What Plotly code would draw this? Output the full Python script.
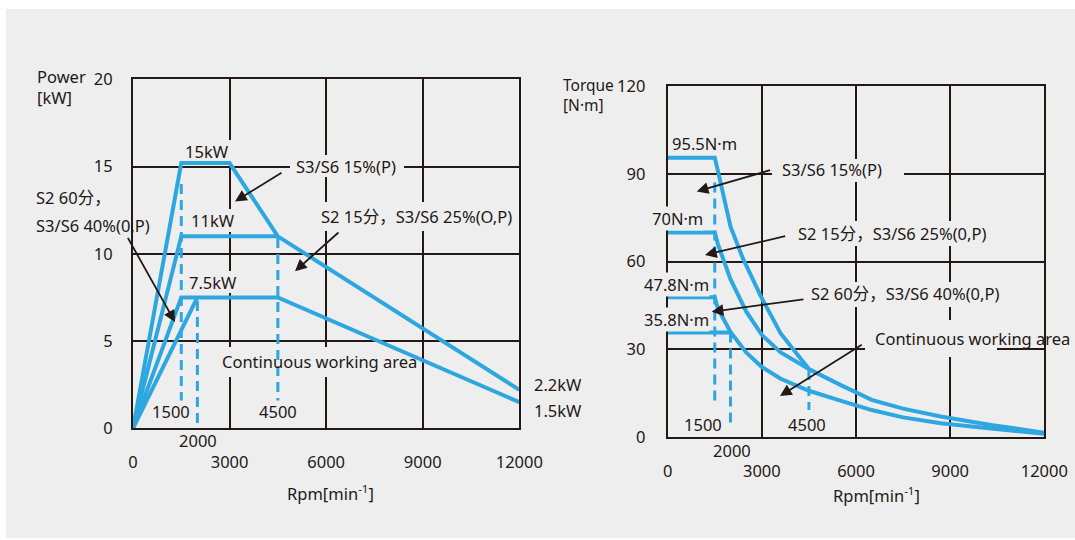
import plotly.graph_objects as go

# ---------------- data ----------------
# Left chart: Power [kW] vs Rpm
p_s3_15_rpm = [0, 1500, 3000, 4500, 12000]
p_s3_15_kw = [0, 15.2, 15.2, 11, 2.2]
p_s2_15_rpm = [0, 1500, 4500]
p_s2_15_kw = [0, 11, 11]
p_s2_60_rpm = [0, 1500, 4500, 12000]
p_s2_60_kw = [0, 7.5, 7.5, 1.5]
p_cont_rpm = [0, 2000]
p_cont_kw = [0, 7.5]

p_dash_1500 = ([1500, 1500], [14.0, 1.6])
p_dash_2000 = ([2000, 2000], [7.3, 0])
p_dash_4500 = ([4500, 4500], [10.9, 1.6])

# Right chart: Torque [N·m] vs Rpm
t_s3_15_rpm = [0, 1500, 1600, 2000, 2400, 3000, 3600, 4500, 5500, 6500, 7500, 8700, 10300, 12000]
t_s3_15_nm = [95.5, 95.5, 91, 72, 61, 47.5, 35.5, 23.3, 17.9, 12.8, 9.8, 7.1, 4.2, 1.6]
t_s2_15_rpm = [0, 1500, 1600, 2000, 2500, 3000, 3600, 4500]
t_s2_15_nm = [70, 70, 66, 54, 43, 35, 29, 23.3]
t_s2_60_rpm = [0, 1500, 1600, 2000, 2500, 3000, 3600, 4500, 5500, 6500, 7500, 8700, 10300, 12000]
t_s2_60_nm = [47.8, 47.8, 44, 36, 29, 24, 20, 15.9, 12.5, 9.3, 6.8, 4.8, 3.0, 1.2]
t_cont_rpm = [0, 2000, 2100]
t_cont_nm = [35.8, 35.8, 34]

t_dash_1500 = ([1500, 1500], [87, 10.5])
t_dash_2000 = ([2000, 2000], [35.8, 3.6])
t_dash_4500 = ([4500, 4500], [23, 9.3])

x_ticks = [0, 3000, 6000, 9000, 12000]
x_tick_text = ["0", "3000", "6000", "9000", "12000"]
p_ticks = [0, 5, 10, 15, 20]
t_ticks = [0, 30, 60, 90, 120]

# ---------------- style ----------------
W, H = 1075, 540
BLUE = "#2ea7e0"
INK = "#231815"
BG = "#eeeeee"
FONT = "Noto Sans, Noto Sans CJK SC, sans-serif"
FS = 16.5

# pixel geometry of the two plot areas
L_X0, L_X1, L_Y0, L_Y1 = 133, 519.3, 428.3, 79.3
R_X0, R_X1, R_Y0, R_Y1 = 667.7, 1044.3, 437.3, 86

fig = go.Figure()


def line(x, y, xa, ya, dash=None, width=4):
    fig.add_trace(go.Scatter(
        x=x, y=y, xaxis=xa, yaxis=ya, mode="lines",
        line=dict(color=BLUE, width=width, dash=dash),
        cliponaxis=False, hoverinfo="skip", showlegend=False))


for xs, ys in [(p_s3_15_rpm, p_s3_15_kw), (p_s2_15_rpm, p_s2_15_kw),
               (p_s2_60_rpm, p_s2_60_kw), (p_cont_rpm, p_cont_kw)]:
    line(xs, ys, "x", "y")
for xs, ys in [p_dash_1500, p_dash_2000, p_dash_4500]:
    line(xs, ys, "x", "y", dash="10px,6px", width=3)

for xs, ys in [(t_s3_15_rpm, t_s3_15_nm), (t_s2_15_rpm, t_s2_15_nm),
               (t_s2_60_rpm, t_s2_60_nm), (t_cont_rpm, t_cont_nm)]:
    line(xs, ys, "x2", "y2")
for xs, ys in [t_dash_1500, t_dash_2000, t_dash_4500]:
    line(xs, ys, "x2", "y2", dash="10px,6px", width=3)

axis_common = dict(
    showgrid=True, gridcolor=INK, gridwidth=2,
    showline=True, linecolor=INK, linewidth=2, mirror=True,
    zeroline=False, ticks="outside", tickcolor="rgba(0,0,0,0)",
    tickfont=dict(family=FONT, size=FS, color=INK), fixedrange=True,
    automargin=False,
)

fig.update_layout(
    width=W, height=H, autosize=False,
    margin=dict(l=0, r=0, t=0, b=0, pad=0, autoexpand=False),
    paper_bgcolor="white", plot_bgcolor=BG,
    font=dict(family=FONT, size=FS, color=INK),
    xaxis=dict(domain=[L_X0 / W, L_X1 / W], range=[0, 12000],
               tickvals=x_ticks, ticktext=x_tick_text, ticklen=18, anchor="y", **axis_common),
    yaxis=dict(domain=[1 - L_Y0 / H, 1 - L_Y1 / H], range=[0, 20],
               tickvals=p_ticks, ticklen=15, anchor="x", **axis_common),
    xaxis2=dict(domain=[R_X0 / W, R_X1 / W], range=[0, 12000],
                tickvals=x_ticks, ticktext=x_tick_text, ticklen=18, anchor="y2", **axis_common),
    yaxis2=dict(domain=[1 - R_Y0 / H, 1 - R_Y1 / H], range=[0, 120],
                tickvals=t_ticks, ticklen=17, anchor="x2", **axis_common),
)


def lx(px):
    return (px - L_X0) / (L_X1 - L_X0) * 12000


def ly(py):
    return (L_Y0 - py) / (L_Y0 - L_Y1) * 20


def rx(px):
    return (px - R_X0) / (R_X1 - R_X0) * 12000


def ry(py):
    return (R_Y0 - py) / (R_Y0 - R_Y1) * 120


shapes = [dict(type="rect", xref="paper", yref="paper", x0=6 / W, x1=1,
               y0=1 - 538 / H, y1=1 - 9 / H,
               fillcolor=BG, line=dict(width=0), layer="below")]

# background patches that interrupt the grid behind labels (drawn below the curves)
left_masks = [(182, 234, 140, 162), (186, 240, 209, 232), (184, 244, 271, 293),
              (290, 404, 155, 177), (316, 517, 202, 231), (218, 422, 347, 377)]
right_masks = [(772, 904, 159, 182), (793, 992, 221, 246), (806, 1004, 282, 307),
               (865, 997, 320, 357)]
for x0, x1, y0, y1 in left_masks:
    shapes.append(dict(type="rect", xref="x", yref="y", x0=lx(x0), x1=lx(x1),
                       y0=ly(y1), y1=ly(y0), fillcolor=BG, line=dict(width=0),
                       layer="between"))
for x0, x1, y0, y1 in right_masks:
    shapes.append(dict(type="rect", xref="x2", yref="y2", x0=rx(x0), x1=rx(x1),
                       y0=ry(y1), y1=ry(y0), fillcolor=BG, line=dict(width=0),
                       layer="between"))
fig.update_layout(shapes=shapes)

ann = []


def text(t, x, y, xr, yr, xanchor="center", bg=None, size=FS):
    ann.append(dict(text=t, x=x, y=y, xref=xr, yref=yr, showarrow=False,
                    xanchor=xanchor, yanchor="middle", align="left",
                    bgcolor=bg if bg else "rgba(0,0,0,0)", borderpad=0,
                    font=dict(family=FONT, size=size, color=INK)))


def ptext(t, px, py, xanchor="center", size=FS):
    text(t, px / W, 1 - py / H, "paper", "paper", xanchor, size=size)


def arrow(tail, head, xr, yr):
    ann.append(dict(text="", x=head[0], y=head[1], ax=tail[0], ay=tail[1],
                    xref=xr, yref=yr, axref=xr, ayref=yr, showarrow=True,
                    arrowhead=2, arrowsize=1.3, arrowwidth=1.8, arrowcolor=INK))


# left chart texts
ptext("Power<br>[kW]", 36, 87.5, "left")
text("15kW", 2298, 15.84, "x", "y")
text("11kW", 2485, 11.88, "x", "y")
text("7.5kW", 2485, 8.33, "x", "y")
text("S3/S6 15%(P)", 6616, 15.03, "x", "y")
text("S2 15分，S3/S6 25%(O,P)", 8811, 12.13, "x", "y")
ptext("S2 60分，", 35, 197, "left")
ptext("S3/S6 40%(0,P)", 35, 225, "left")
text("Continuous working area", 5808, 3.8, "x", "y")
ptext("2.2kW", 533, 384, "left")
ptext("1.5kW", 533, 410, "left")
text("1500", 1180, 0.94, "x", "y")
text("4500", 4504, 0.94, "x", "y")
ptext("2000", 198, 440)
ptext("Rpm[min<sup>-1</sup>]", 330, 493)
arrow((4659, 14.7), (3168, 13.0), "x", "y")
arrow((6429, 11.3), (5032, 9.0), "x", "y")
arrow((-186, 11.0), (1304, 6.09), "x", "y")

# right chart texts
ptext("Torque<br>[N·m]", 562, 95, "left", size=15.5)
text("95.5N·m", 1166, 100.5, "x2", "y2")
text("70N·m", 318, 74.6, "x2", "y2", bg=BG)
text("47.8N·m", 280, 52.1, "x2", "y2", bg=BG)
text("35.8N·m", 280, 40.1, "x2", "y2", bg=BG)
text("S3/S6 15%(P)", 5249, 91.4, "x2", "y2")
text("S2 15分，S3/S6 25%(0,P)", 7134, 69.7, "x2", "y2")
text("S2 60分，S3/S6 40%(0,P)", 7558, 49.0, "x2", "y2")
text("Continuous working area", 9724, 33.8, "x2", "y2")
text("1500", 1134, 4.4, "x2", "y2")
text("4500", 4453, 4.4, "x2", "y2")
ptext("2000", 731.7, 450)
ptext("Rpm[min<sup>-1</sup>]", 876.7, 495)
arrow((3312, 91.4), (924, 84.0), "x2", "y2")
arrow((3790, 68.8), (1188, 62.3), "x2", "y2")
arrow((4373, 47.2), (1401, 42.9), "x2", "y2")
arrow((6230, 31.9), (3577, 14.1), "x2", "y2")

fig.update_layout(annotations=ann)
fig.write_html("out.html")
